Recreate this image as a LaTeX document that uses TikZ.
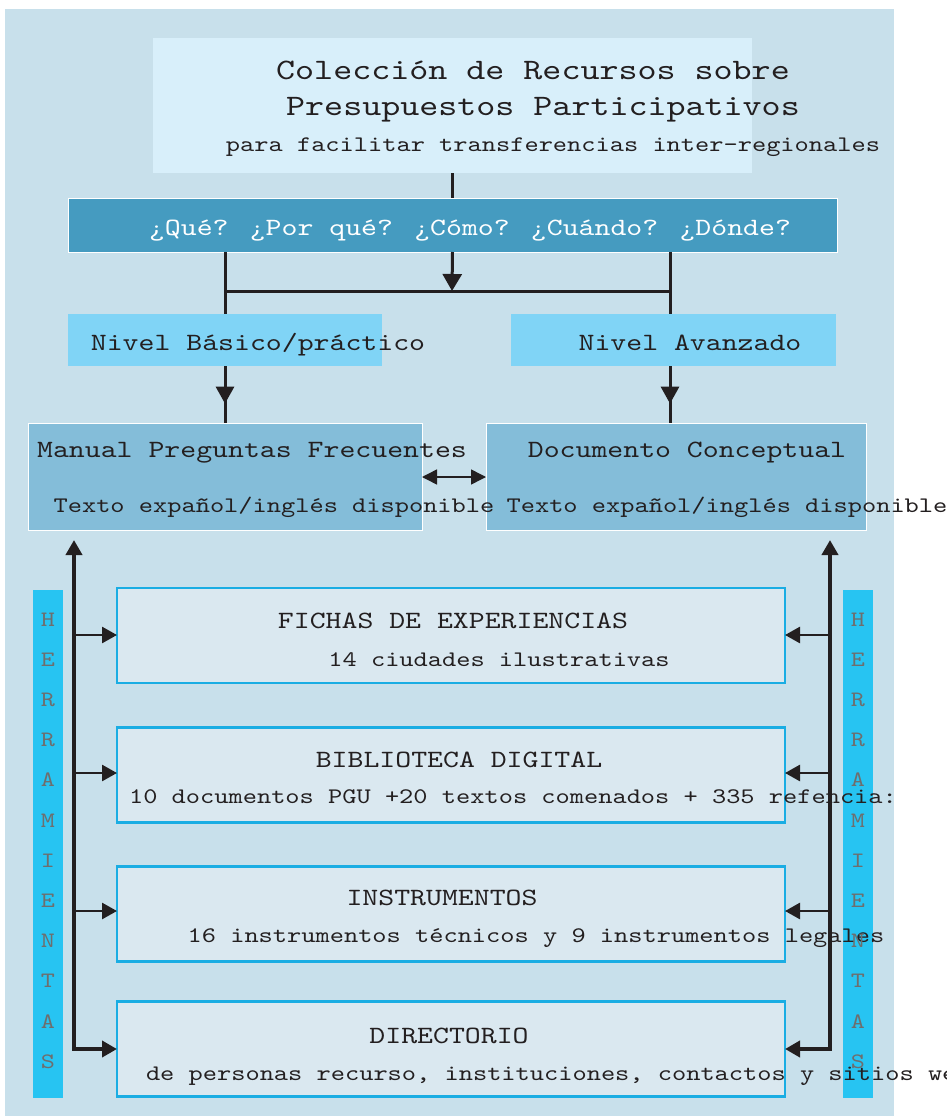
\documentclass[tikz,border=0pt]{standalone}
\usepackage{fontspec}
\newfontfamily\cour{lmmono10-regular}[Extension=.otf,FakeStretch=1.22]
\usetikzlibrary{arrows.meta,decorations.markings}
\definecolor{bgc}{HTML}{C8E0EB}
\definecolor{titlec}{HTML}{D8EFFA}
\definecolor{qc}{HTML}{459BC0}
\definecolor{nivc}{HTML}{80D4F6}
\definecolor{manc}{HTML}{84BDD9}
\definecolor{resc}{HTML}{DAE8F0}
\definecolor{resb}{HTML}{1AADE3}
\definecolor{barc}{HTML}{27C4F2}
\definecolor{ink}{HTML}{231F20}
\definecolor{letc}{HTML}{6E6E6E}
\newcommand\fTitle{\cour\fontsize{29.7}{34}\selectfont}
\newcommand\fMid{\cour\fontsize{24.85}{28}\selectfont}
\newcommand\fSmall{\cour\fontsize{22.2}{26}\selectfont}
\newcommand\fLet{\cour\fontsize{22}{25}\selectfont}
\begin{document}
\begin{tikzpicture}[x=1pt,y=-1pt,
  box/.style={inner sep=0pt,outer sep=0pt,draw=none},
  resbox/.style={box,fill=resc,draw=resb,line width=2.5pt,minimum width=668pt,minimum height=95pt},
  txt/.style={inner sep=0pt,outer sep=0pt,anchor=base,text=ink},
  conn/.style={draw=ink,line width=3pt},
  bigline/.style={draw=ink,line width=4.2pt},
  brline/.style={draw=ink,line width=2.7pt,-{Triangle[length=15pt,width=16pt]}},
  barletter/.style={inner sep=0pt,anchor=base,text=letc,font=\fLet}]
\useasboundingbox (0,0) rectangle (946,1116);
% background
\fill[bgc] (5,9) rectangle (894,1116);
% boxes
\node[box,fill=titlec,minimum width=599pt,minimum height=135pt] (title) at (452.5,105.5) {};
\node[box,fill=qc,draw=white,line width=1pt,minimum width=769pt,minimum height=54pt] (q) at (452.5,225) {};
\node[box,fill=nivc,minimum width=314pt,minimum height=52pt] (nb) at (225,340) {};
\node[box,fill=nivc,minimum width=325pt,minimum height=52pt] (na) at (673.5,340) {};
\node[box,fill=manc,draw=white,line width=1pt,minimum width=394pt,minimum height=107pt] (man) at (225,476.5) {};
\node[box,fill=manc,draw=white,line width=1pt,minimum width=380pt,minimum height=107pt] (doc) at (676,476.5) {};
\node[resbox] (f1) at (451,635.5) {};
\node[resbox] (f2) at (451,775) {};
\node[resbox] (f3) at (451,914) {};
\node[resbox] (f4) at (451,1049) {};
\node[box,fill=barc,minimum width=30pt,minimum height=508pt] (barL) at (48,844) {};
\node[box,fill=barc,minimum width=30pt,minimum height=508pt] (barR) at (858,844) {};
% texts
\node[txt,font=\fTitle] (t1) at (533,79) {Colección de Recursos sobre};
\node[txt,font=\fTitle] (t2) at (543,115) {Presupuestos Participativos};
\node[txt,font=\fSmall] (t3) at (553,151) {para facilitar transferencias inter-regionales};
\node[txt,font=\fMid,text=white] (tq) at (470,235) {¿Qué? ¿Por qué? ¿Cómo? ¿Cuándo? ¿Dónde?};
\node[txt,font=\fMid] (tnb) at (258,350) {Nivel Básico/práctico};
\node[txt,font=\fMid] (tna) at (690,350) {Nivel Avanzado};
\node[txt,font=\fMid] (tman) at (252,457) {Manual Preguntas Frecuentes};
\node[txt,font=\fSmall] (tman2) at (274,512) {Texto expañol/inglés disponible};
\node[txt,font=\fMid] (tdoc) at (687,457) {Documento Conceptual};
\node[txt,font=\fSmall] (tdoc2) at (727,512) {Texto expañol/inglés disponible};
\node[txt,font=\fMid] (tf1) at (453,628) {FICHAS DE EXPERIENCIAS};
\node[txt,font=\fSmall] (tf1b) at (499,666) {14 ciudades ilustrativas};
\node[txt,font=\fMid] (tf2) at (459,767) {BIBLIOTECA DIGITAL};
\node[txt,font=\fSmall] (tf2b) at (513,803) {10 documentos PGU +20 textos comenados + 335 refencia:};
\node[txt,font=\fMid] (tf3) at (442,905) {INSTRUMENTOS};
\node[txt,font=\fSmall] (tf3b) at (536,942) {16 instrumentos técnicos y 9 instrumentos legales};
\node[txt,font=\fMid] (tf4) at (449,1043) {DIRECTORIO};
\node[txt,font=\fSmall,anchor=base west] (tf4b) at (146,1080) {de personas recurso, instituciones, contactos y sitios web};
% bar letters
\foreach \l [count=\i from 0] in {H,E,R,R,A,M,I,E,N,T,A,S} {
  \node[barletter] (hl\i) at (48,{626+40.2*\i}) {\l};
  \node[barletter] (hr\i) at (858,{626+40.2*\i}) {\l};
}
% connectors top
\coordinate (hL) at (225,291);
\coordinate (hR) at (670,291);
\coordinate (hM) at (452,291);
\draw[conn] (title.south) -- (q.north);
\draw[conn] (hL) -- (hR);
\draw[conn,-{Triangle[length=17pt,width=19pt]}] (q.south) -- (hM);
\draw[conn] (q.south -| hL) -- (nb.north);
\draw[conn] (q.south -| hR) -- (na.north -| hR);
\draw[conn,postaction={decorate},decoration={markings,mark=at position 0.66 with {\arrow{Triangle[length=17pt,width=18pt]}}}] (nb.south) -- (man.north);
\draw[conn,postaction={decorate},decoration={markings,mark=at position 0.66 with {\arrow{Triangle[length=17pt,width=18pt]}}}] (na.south -| hR) -- (doc.north -| hR);
\draw[draw=ink,line width=1.5pt,{Triangle[length=15pt,width=15pt]}-{Triangle[length=15pt,width=15pt]}] (man.east |- 0,477) -- (doc.west |- 0,477);
% side trunks
\coordinate (lTop) at (74,540);
\coordinate (rTop) at (830,540);
\draw[bigline,{Triangle[length=15pt,width=16pt]}-{Triangle[length=15pt,width=16pt]}] (lTop) |- (f4.west);
\draw[bigline,{Triangle[length=15pt,width=16pt]}-{Triangle[length=15pt,width=16pt]}] (rTop) |- (f4.east);
\draw[brline] (lTop |- 0,635) -- (f1.west |- 0,635);
\draw[brline] (lTop |- 0,773) -- (f2.west |- 0,773);
\draw[brline] (lTop |- 0,911) -- (f3.west |- 0,911);
\draw[brline] (rTop |- 0,635) -- (f1.east |- 0,635);
\draw[brline] (rTop |- 0,773) -- (f2.east |- 0,773);
\draw[brline] (rTop |- 0,911) -- (f3.east |- 0,911);
\end{tikzpicture}
\end{document}
